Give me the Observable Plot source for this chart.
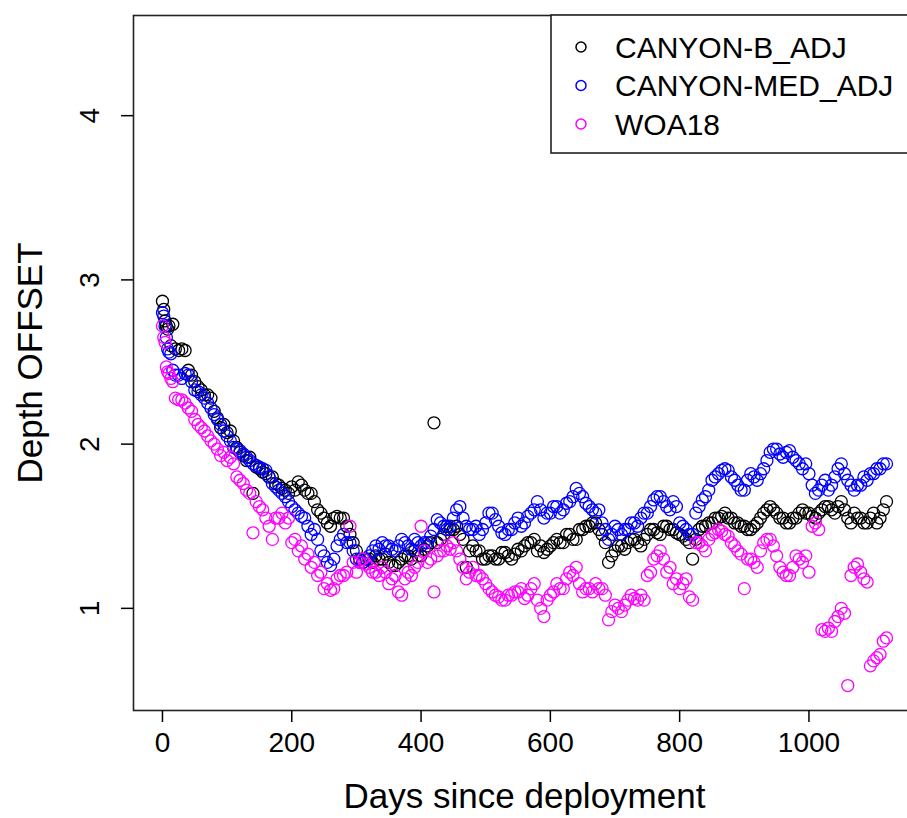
<!DOCTYPE html>
<html><head><meta charset="utf-8">
<script src="https://cdn.jsdelivr.net/npm/d3@7"></script>
<script src="https://cdn.jsdelivr.net/npm/@observablehq/plot@0.6"></script>
<style>
html,body{margin:0;padding:0;background:#fff;overflow:hidden;width:907px;height:818px}
#chart{position:relative;width:907px;height:818px;overflow:hidden}
#chart svg{max-width:none !important;}
</style></head><body><div id="chart"></div>
<script>
const days = [0,2,4,6,8,10,13,16,20,25,30,35,40,45,
50,55,60,65,70,75,80,85,90,95,
100,105,110,115,120,125,130,135,140,145,
150,155,160,165,170,175,180,185,190,195,
200,205,210,215,220,225,230,235,240,245,
250,255,260,265,270,275,280,285,290,295,
300,305,310,315,320,325,330,335,340,345,
350,355,360,365,370,375,380,385,390,395,
400,405,410,415,420,425,430,435,440,445,
450,455,460,465,470,475,480,485,490,495,
500,505,510,515,520,525,530,535,540,545,
550,555,560,565,570,575,580,585,590,595,
600,605,610,615,620,625,630,635,640,645,
650,655,660,665,670,675,680,685,690,695,
700,705,710,715,720,725,730,735,740,745,
750,755,760,765,770,775,780,785,790,795,
800,805,810,815,820,825,830,835,840,845,
850,855,860,865,870,875,880,885,890,895,
900,905,910,915,920,925,930,935,940,945,
950,955,960,965,970,975,980,985,990,995,
1000,1005,1010,1015,1020,1025,1030,1035,1040,1045,
1050,1055,1060,1065,1070,1075,1080,1085,1090,1095,
1100,1105,1110,1115,1120];

const canyonB = [2.87,2.82,2.75,2.72,2.70,2.72,2.60,2.73,2.58,2.57,2.58,2.57,2.45,2.42,
2.38,2.35,2.33,2.30,2.30,2.28,2.20,2.16,2.10,2.12,
2.07,2.08,2.02,1.98,1.95,1.93,1.90,1.92,1.70,1.86,
1.85,1.83,1.82,1.80,1.80,1.76,1.75,1.73,1.72,1.70,
1.74,1.72,1.77,1.75,1.72,1.70,1.70,1.65,1.60,1.58,
1.55,1.52,1.50,1.55,1.56,1.55,1.55,1.50,1.45,1.40,
1.35,1.30,1.28,1.30,1.30,1.28,1.32,1.30,1.30,1.33,
1.28,1.26,1.26,1.28,1.30,1.32,1.32,1.30,1.35,1.32,
1.32,1.36,1.38,1.40,2.13,1.40,1.42,1.45,1.50,1.48,
1.48,1.50,1.45,1.42,1.25,1.35,1.38,1.35,1.35,1.30,
1.30,1.32,1.32,1.30,1.30,1.34,1.34,1.32,1.30,1.33,
1.36,1.35,1.38,1.40,1.40,1.42,1.35,1.38,1.34,1.36,
1.38,1.40,1.42,1.40,1.40,1.45,1.45,1.42,1.42,1.48,
1.48,1.50,1.50,1.52,1.52,1.48,1.45,1.40,1.28,1.32,
1.35,1.38,1.38,1.36,1.40,1.42,1.42,1.40,1.38,1.42,
1.45,1.48,1.48,1.46,1.45,1.50,1.50,1.48,1.48,1.46,
1.45,1.44,1.42,1.40,1.30,1.42,1.48,1.50,1.50,1.52,
1.52,1.55,1.55,1.56,1.58,1.55,1.55,1.52,1.52,1.50,
1.50,1.48,1.48,1.50,1.52,1.55,1.58,1.60,1.62,1.60,
1.58,1.55,1.55,1.52,1.52,1.55,1.55,1.58,1.60,1.58,
1.58,1.56,1.55,1.58,1.60,1.62,1.62,1.60,1.58,1.62,
1.65,1.60,1.55,1.52,1.58,1.55,1.55,1.52,1.52,1.55,
1.58,1.52,1.55,1.60,1.65];

const canyonMed = [2.80,2.78,2.72,2.65,2.58,2.56,2.55,2.45,2.42,2.42,2.40,2.43,2.42,2.38,
2.33,2.32,2.30,2.28,2.25,2.22,2.18,2.15,2.12,2.08,
2.05,2.02,1.98,1.97,1.96,1.94,1.92,1.90,1.88,1.87,
1.86,1.85,1.84,1.80,1.76,1.74,1.72,1.70,1.68,1.65,
1.62,1.60,1.58,1.56,1.55,1.50,1.45,1.48,1.42,1.35,
1.32,1.28,1.26,1.30,1.38,1.42,1.45,1.40,1.40,1.35,
1.30,1.28,1.28,1.30,1.32,1.35,1.38,1.36,1.40,1.38,
1.38,1.36,1.35,1.38,1.42,1.40,1.38,1.36,1.42,1.40,
1.38,1.40,1.40,1.44,1.48,1.54,1.52,1.50,1.48,1.50,
1.55,1.60,1.62,1.55,1.50,1.48,1.48,1.50,1.45,1.48,
1.52,1.58,1.58,1.54,1.50,1.46,1.45,1.48,1.48,1.52,
1.55,1.50,1.52,1.56,1.58,1.60,1.65,1.60,1.55,1.58,
1.58,1.62,1.62,1.58,1.60,1.64,1.65,1.68,1.73,1.70,
1.68,1.64,1.62,1.60,1.58,1.60,1.52,1.48,1.42,1.45,
1.50,1.48,1.45,1.48,1.48,1.52,1.52,1.50,1.55,1.58,
1.58,1.62,1.66,1.68,1.68,1.65,1.62,1.60,1.65,1.62,
1.52,1.50,1.48,1.45,1.45,1.58,1.62,1.66,1.68,1.72,
1.78,1.80,1.82,1.84,1.85,1.84,1.80,1.78,1.75,1.72,
1.72,1.78,1.82,1.80,1.78,1.82,1.85,1.90,1.95,1.97,
1.97,1.94,1.92,1.95,1.96,1.92,1.90,1.88,1.85,1.88,
1.82,1.75,1.70,1.72,1.75,1.78,1.72,1.75,1.80,1.85,
1.88,1.82,1.78,1.75,1.72,1.75,1.75,1.80,1.78,1.82,
1.82,1.85,1.85,1.88,1.88];

const woa18 = [2.72,2.65,2.62,2.47,2.44,2.43,2.40,2.38,2.28,2.27,2.27,2.25,2.22,2.20,
2.15,2.12,2.10,2.08,2.05,2.02,2.00,1.97,1.93,1.95,
1.90,1.92,1.88,1.80,1.78,1.76,1.72,1.70,1.46,1.65,
1.62,1.60,1.55,1.50,1.42,1.55,1.55,1.58,1.52,1.55,
1.40,1.42,1.35,1.38,1.30,1.33,1.25,1.28,1.20,1.22,
1.12,1.15,1.11,1.12,1.18,1.20,1.20,1.22,1.50,1.28,
1.22,1.28,1.30,1.27,1.25,1.22,1.22,1.20,1.25,1.22,
1.15,1.18,1.20,1.10,1.08,1.18,1.22,1.20,1.25,1.28,
1.50,1.35,1.28,1.30,1.10,1.32,1.35,1.35,1.38,1.36,
1.40,1.35,1.30,1.25,1.18,1.22,1.25,1.20,1.20,1.18,
1.15,1.12,1.10,1.08,1.07,1.05,1.05,1.08,1.08,1.10,
1.10,1.12,1.06,1.08,1.12,1.15,1.05,1.00,0.95,1.05,
1.08,1.10,1.15,1.12,1.12,1.18,1.22,1.20,1.25,1.15,
1.10,1.12,1.12,1.10,1.15,1.12,1.12,1.08,0.93,0.98,
1.02,1.00,0.98,1.02,1.05,1.08,1.06,1.05,1.08,1.05,
1.20,1.22,1.30,1.32,1.35,1.30,1.22,1.25,1.15,1.18,
1.12,1.15,1.18,1.07,1.05,1.40,1.40,1.38,1.35,1.42,
1.45,1.46,1.48,1.47,1.45,1.44,1.40,1.38,1.35,1.33,
1.12,1.30,1.30,1.28,1.25,1.35,1.40,1.42,1.42,1.38,
1.32,1.25,1.22,1.20,1.20,1.25,1.32,1.30,1.28,1.32,
1.22,1.50,1.52,1.48,0.87,0.86,0.88,0.86,0.92,0.95,
1.00,0.97,0.53,1.20,1.25,1.27,1.22,1.18,1.16,0.65,
0.68,0.70,0.72,0.80,0.82];

const seriesNames = ["CANYON-B_ADJ", "CANYON-MED_ADJ", "WOA18"];
const seriesColors = ["#000000", "#0000ff", "#ff00ff"];
const xTicks = [0, 200, 400, 600, 800, 1000];
const yTicks = [1, 2, 3, 4];
const xTitle = "Days since deployment";
const yTitle = "Depth OFFSET";

const rows = [];
[canyonB, canyonMed, woa18].forEach((vals, s) =>
  vals.forEach((v, i) => rows.push({day: days[i], value: v, series: seriesNames[s]})));

const FONT = "'Liberation Sans', Arial, sans-serif";

const plot = Plot.plot({
  width: 925, height: 818,
  marginLeft: 133, marginRight: 10, marginTop: 15, marginBottom: 108,
  style: {fontFamily: FONT, background: "#fff", color: "#000", maxWidth: "none"},
  x: {domain: [-44.8, 1164.8]},
  y: {domain: [0.378, 4.61]},
  color: {domain: seriesNames, range: seriesColors},
  marks: [
    Plot.dot(rows, {x: "day", y: "value", stroke: "series", r: 6, strokeWidth: 1.3}),
    Plot.frame({stroke: "#222", strokeWidth: 1.6}),
    Plot.axisX({ticks: xTicks, tickSize: 12, tickPadding: 10, fontSize: 28, strokeWidth: 1.5,
      tickFormat: d3.format("d"), label: null, fill: "#000"}),
    Plot.axisY({ticks: yTicks, tickSize: 12, tickFormat: () => "", label: null, strokeWidth: 1.5}),
    Plot.text(yTicks, {y: d => d, text: d => String(d), frameAnchor: "left", dx: -43,
      rotate: -90, fontSize: 28, textAnchor: "middle", lineAnchor: "middle", fill: "#000"}),
    Plot.text([xTitle], {text: d => d, frameAnchor: "bottom", dy: 86, fontSize: 35,
      textAnchor: "middle", lineAnchor: "middle", fill: "#000"}),
    Plot.text([yTitle], {text: d => d, frameAnchor: "left", dx: -103, rotate: -90, fontSize: 35,
      textAnchor: "middle", lineAnchor: "middle", fill: "#000"})
  ]
});
plot.style.maxWidth = "none";
plot.setAttribute("width", 925);
document.getElementById("chart").appendChild(plot);

// legend (R-style box, top-right)
const svg = d3.select(plot);
const lg = svg.append("g").attr("font-family", FONT).attr("text-anchor", "start");
lg.append("rect").attr("x", 551).attr("y", 15).attr("width", 400).attr("height", 138)
  .attr("fill", "#fff").attr("stroke", "#222").attr("stroke-width", 1.6);
seriesNames.forEach((name, i) => {
  const cy = 47 + i * 38.5;
  lg.append("circle").attr("cx", 581).attr("cy", cy).attr("r", 5)
    .attr("fill", "none").attr("stroke", seriesColors[i]).attr("stroke-width", 1.5);
  lg.append("text").attr("x", 615).attr("y", cy).attr("dy", "0.35em")
    .attr("font-size", 30).attr("fill", "#000").attr("text-anchor", "start").text(name);
});
</script>
</body></html>
